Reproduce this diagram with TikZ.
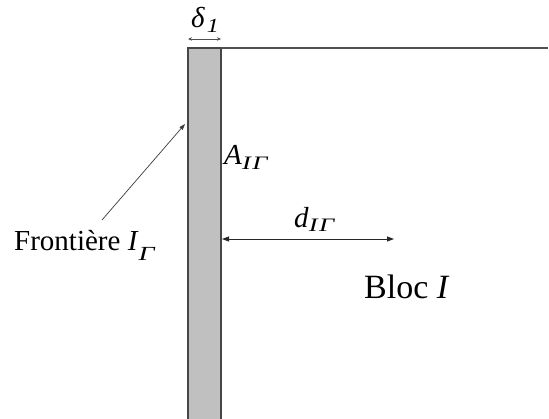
\documentclass[tikz,border=0pt]{standalone}
\usepackage{fontspec}
\usepackage{graphicx}
\setmainfont{Liberation Serif}
\usetikzlibrary{arrows.meta}
% #1 main, #2 subscript, #3 sub font size, #4 lowering, #5 horizontal stretch
\newcommand{\lbl}[5]{\textit{#1}\raisebox{-#4}{\scalebox{#5}[1]{\fontsize{#3}{#3}\selectfont\textit{#2}}}}
\begin{document}
\begin{tikzpicture}[x=1pt,y=-1pt,
  wall/.style={draw={rgb,255:red,70;green,70;blue,70},line width=1.2pt},
  edge/.style={draw={rgb,255:red,80;green,80;blue,80},line width=1.4pt},
  dim/.style={draw={rgb,255:red,40;green,40;blue,40},line width=0.8pt,{Triangle[length=7pt,width=5pt]}-{Triangle[length=7pt,width=5pt]}},
  pointer/.style={draw={rgb,255:red,60;green,60;blue,60},line width=0.7pt,-{Triangle[length=6pt,width=4pt]}},
  txt/.style={inner sep=0pt,anchor=base west,font=\fontsize{29}{31}\selectfont}]
\useasboundingbox (0,0) rectangle (549,419);
\fill[white] (0,0) rectangle (549,419);
% wall
\fill[fill={rgb,255:red,192;green,192;blue,192}] (188,48) rectangle (221,421);
\draw[wall] (188,421) -- (188,48) -- (221,48) -- (221,421);
\draw[edge] (221,48) -- (548,48);
% delta_1
\coordinate (dl) at (188,39);
\coordinate (dr) at (221,39);
\draw[draw={rgb,255:red,80;green,80;blue,80},line width=0.6pt,{Stealth[length=4pt,width=3.5pt]}-{Stealth[length=4pt,width=3.5pt]}] (dl) -- (dr);
\node[txt,font=\fontsize{29}{31}\selectfont] (delta) at (191,28) {\lbl{δ}{\hspace{1.5pt}1}{20}{5pt}{1.2}};
% Frontiere
\node[txt] (front) at (14,251) {Frontière \lbl{I}{Γ}{20}{10pt}{1.4}};
\coordinate (fs) at (102,220);
\coordinate (ft) at (185,124);
\draw[pointer] (fs) -- (ft);
% A
\node[txt] (A) at (224,165) {\lbl{A}{I\hspace{1pt}Γ}{19}{5pt}{1.4}};
% d
\coordinate (ds) at (222,239);
\coordinate (de) at (394,239);
\draw[dim] (ds) -- (de);
\node[txt] (d) at (294,228) {\lbl{d}{I\hspace{1pt}Γ}{19}{4pt}{1.4}};
% Bloc
\node[txt,font=\fontsize{34}{36}\selectfont] (bloc) at (364,299) {Bloc \textit{I}};
\end{tikzpicture}
\end{document}
